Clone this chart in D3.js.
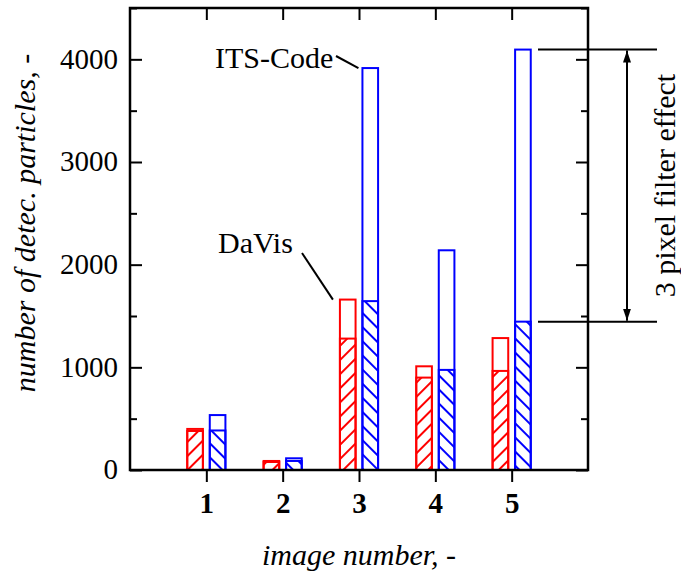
<!DOCTYPE html>
<html>
<head>
<meta charset="utf-8">
<script src="https://cdn.jsdelivr.net/npm/d3@7"></script>
<style>
  body { margin: 0; background: #fff; }
  svg { display: block; }
</style>
</head>
<body>
<svg id="chart" width="681" height="571"></svg>
<script>
// Detected particle counts per image: total (open bar) and after 3-pixel filter (hatched part)
const images = [1, 2, 3, 4, 5];
const davisTotal = [400, 88, 1660, 1010, 1285];
const davisFiltered = [380, 78, 1280, 900, 965];
const itsTotal = [535, 114, 3915, 2140, 4095];
const itsFiltered = [385, 88, 1645, 975, 1445];
const yMajorTicks = [0, 1000, 2000, 3000, 4000];
const yMinorTicks = [500, 1500, 2500, 3500, 4500];

const FONT = '"Liberation Serif", "Times New Roman", Times, serif';
const svg = d3.select("#chart");
const frame = { left: 130, right: 588, top: 8, bottom: 470 };

const x = d3.scaleLinear().domain([0, 6]).range([frame.left, frame.right]);
const y = d3.scaleLinear().domain([0, 4500]).range([frame.bottom, frame.top]);

const series = [
  { name: "DaVis", total: davisTotal, filtered: davisFiltered, color: "#ff0000", offset: -0.25, hatch: 45 },
  { name: "ITS-Code", total: itsTotal, filtered: itsFiltered, color: "#0000ff", offset: 0.045, hatch: -45 }
];
const barW = 0.205;

const defs = svg.append("defs");
series.forEach((s, i) => {
  defs.append("pattern")
    .attr("id", "hatch" + i)
    .attr("patternUnits", "userSpaceOnUse")
    .attr("width", 10).attr("height", 10)
    .attr("patternTransform", `rotate(${s.hatch})`)
    .append("line")
    .attr("x1", 5).attr("y1", -1).attr("x2", 5).attr("y2", 11)
    .attr("stroke", s.color).attr("stroke-width", 2);
});
defs.append("marker")
  .attr("id", "arrow")
  .attr("viewBox", "0 0 12 8")
  .attr("refX", 12).attr("refY", 4)
  .attr("markerUnits", "userSpaceOnUse")
  .attr("markerWidth", 12).attr("markerHeight", 8)
  .attr("orient", "auto-start-reverse")
  .append("path").attr("d", "M0,0 L12,4 L0,8 Z").attr("fill", "#000");

// bars
series.forEach((s, i) => {
  const g = svg.append("g");
  g.selectAll("rect.total").data(images).join("rect")
    .attr("x", (d) => x(d + s.offset))
    .attr("width", x(barW) - x(0))
    .attr("y", (d, j) => y(s.total[j]))
    .attr("height", (d, j) => y(0) - y(s.total[j]))
    .attr("fill", "none").attr("stroke", s.color).attr("stroke-width", 2);
  g.selectAll("rect.filt").data(images).join("rect")
    .attr("x", (d) => x(d + s.offset))
    .attr("width", x(barW) - x(0))
    .attr("y", (d, j) => y(s.filtered[j]))
    .attr("height", (d, j) => y(0) - y(s.filtered[j]))
    .attr("fill", `url(#hatch${i})`).attr("stroke", s.color).attr("stroke-width", 2);
});

// axes: ticks inward on left, right and top; outward at the bottom
const axisStyle = (g) => g.attr("color", "#000").attr("font-family", null).attr("font-size", null)
  .call((a) => a.select(".domain").remove())
  .selectAll("line").attr("stroke-width", 2);

svg.append("g").attr("transform", `translate(${frame.left},0)`)
  .call(d3.axisLeft(y).tickValues(yMajorTicks).tickSize(-12).tickPadding(12).tickFormat(d3.format("d")))
  .call(axisStyle)
  .selectAll("text").style("font-family", FONT).style("font-size", "29px").attr("dy", "0.3em");
svg.append("g").attr("transform", `translate(${frame.left},0)`)
  .call(d3.axisLeft(y).tickValues(yMinorTicks).tickSize(-7).tickFormat(""))
  .call(axisStyle);
svg.append("g").attr("transform", `translate(${frame.right},0)`)
  .call(d3.axisRight(y).tickValues(yMajorTicks).tickSize(-12).tickFormat(""))
  .call(axisStyle);
svg.append("g").attr("transform", `translate(${frame.right},0)`)
  .call(d3.axisRight(y).tickValues(yMinorTicks).tickSize(-7).tickFormat(""))
  .call(axisStyle);
svg.append("g").attr("transform", `translate(0,${frame.bottom})`)
  .call(d3.axisBottom(x).tickValues(images).tickSize(12).tickPadding(10).tickFormat(d3.format("d")))
  .call(axisStyle)
  .selectAll("text").style("font-family", FONT).style("font-size", "29px").style("font-weight", "bold");
svg.append("g").attr("transform", `translate(0,${frame.top})`)
  .call(d3.axisTop(x).tickValues(images).tickSize(-12).tickFormat(""))
  .call(axisStyle);

svg.append("rect")
  .attr("x", frame.left).attr("y", frame.top)
  .attr("width", frame.right - frame.left).attr("height", frame.bottom - frame.top)
  .attr("fill", "none").attr("stroke", "#000").attr("stroke-width", 2.5);

const label = (sel) => sel.style("font-family", FONT).style("font-size", "30px").attr("fill", "#000");

// axis titles
svg.append("text")
  .attr("x", 359).attr("y", 565)
  .attr("text-anchor", "middle").style("font-style", "italic")
  .call(label).text("image number, -");
svg.append("text")
  .attr("transform", "translate(35,223) rotate(-90)")
  .attr("text-anchor", "middle").style("font-style", "italic")
  .call(label).text("number of detec. particles, -");

// series labels with leader lines
const its = series[1], dav = series[0];
svg.append("text").attr("x", 215).attr("y", 68).call(label).text(its.name);
svg.append("line")
  .attr("x1", 336).attr("y1", 56)
  .attr("x2", x(3 + its.offset) - 4).attr("y2", y(its.total[2]))
  .attr("stroke", "#000").attr("stroke-width", 2);
svg.append("text").attr("x", 218).attr("y", 253).call(label).text(dav.name);
svg.append("line")
  .attr("x1", 302).attr("y1", 253)
  .attr("x2", x(3 + dav.offset) - 7).attr("y2", y(dav.total[2]))
  .attr("stroke", "#000").attr("stroke-width", 2);

// filter effect bracket on image 5 (ITS-Code)
const yHi = y(itsTotal[4]), yLo = y(itsFiltered[4]);
[yHi, yLo].forEach((yy) => {
  svg.append("line").attr("x1", 538).attr("x2", 657).attr("y1", yy).attr("y2", yy)
    .attr("stroke", "#000").attr("stroke-width", 2);
});
svg.append("line")
  .attr("x1", 627).attr("x2", 627).attr("y1", yHi + 1).attr("y2", yLo - 1)
  .attr("stroke", "#000").attr("stroke-width", 2)
  .attr("marker-start", "url(#arrow)").attr("marker-end", "url(#arrow)");
svg.append("text")
  .attr("transform", `translate(675,${(yHi + yLo) / 2}) rotate(-90)`)
  .attr("text-anchor", "middle")
  .call(label).text("3 pixel filter effect");
</script>
</body>
</html>
